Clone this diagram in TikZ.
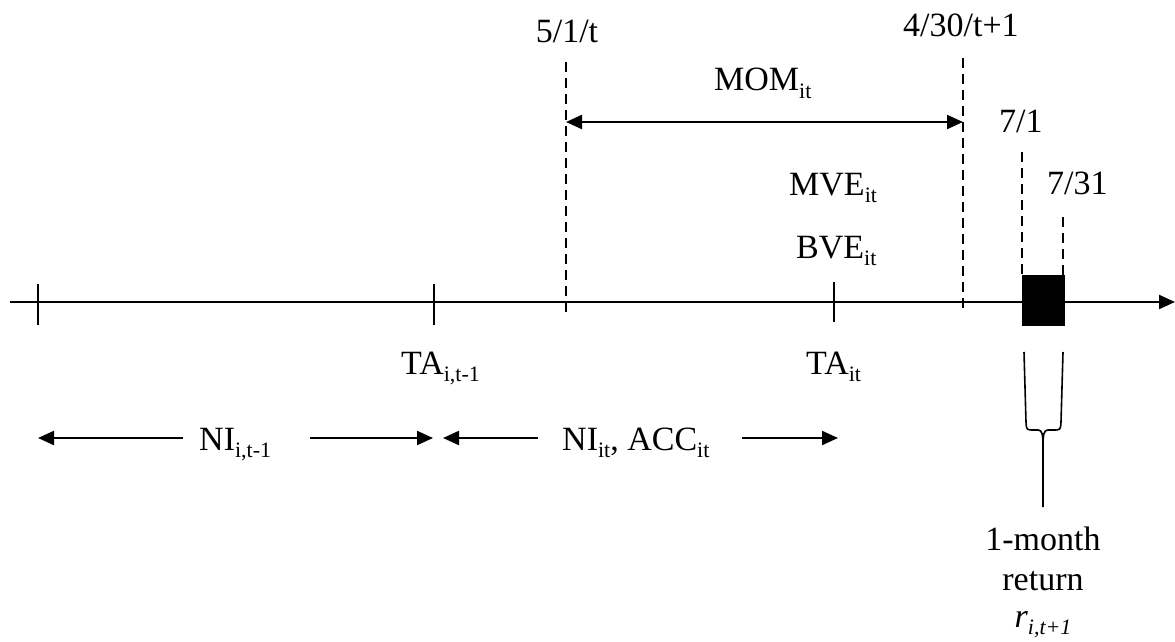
\documentclass[tikz,border=0pt]{standalone}
\usepackage{fontspec}
\setmainfont{Liberation Serif}
\usetikzlibrary{arrows.meta}
\newcommand\sbs[1]{\raisebox{-0.22em}{\fontsize{22}{22}\selectfont #1}}
\begin{document}
\begin{tikzpicture}[x=1pt,y=-1pt,
  lbl/.style={font=\fontsize{34}{38}\selectfont, inner sep=0pt, anchor=base west},
  lblc/.style={font=\fontsize{34}{38}\selectfont, inner sep=0pt, anchor=base},
  axisline/.style={line width=2.2pt, -{Triangle[length=16pt,width=14pt]}},
  tick/.style={line width=1.8pt},
  dline/.style={line width=1.6pt, dash pattern=on 10pt off 6pt},
  dbl/.style={line width=2.2pt, {Triangle[length=16pt,width=14pt]}-{Triangle[length=16pt,width=14pt]}},
  sgl/.style={line width=2.2pt, -{Triangle[length=16pt,width=14pt]}},
  brace/.style={line width=1.6pt}]
\useasboundingbox (0,0) rectangle (1175,642);
% axis
\coordinate (a0) at (10,302);
\coordinate (a1) at (1175,302);
\draw[axisline] (a0) -- (a1);
% solid ticks
\coordinate (t1a) at (38,284); \coordinate (t1b) at (38,325);
\coordinate (t2a) at (434,284); \coordinate (t2b) at (434,325);
\coordinate (t3a) at (834,282); \coordinate (t3b) at (834,322);
\draw[tick] (t1a) -- (t1b);
\draw[tick] (t2a) -- (t2b);
\draw[tick] (t3a) -- (t3b);
% dashed lines
\coordinate (d1a) at (566,62); \coordinate (d1b) at (566,313);
\coordinate (d2a) at (963,58); \coordinate (d2b) at (963,308);
\coordinate (d3a) at (1022,152); \coordinate (d3b) at (1022,275);
\coordinate (d4a) at (1063,217); \coordinate (d4b) at (1063,275);
\draw[dline] (d1a) -- (d1b);
\draw[dline] (d2a) -- (d2b);
\draw[dline] (d3a) -- (d3b);
\draw[dline] (d4a) -- (d4b);
% black box
\node[fill=black, draw=none, minimum width=43pt, minimum height=51pt, inner sep=0pt] (box) at (1043.5,300.5) {};
% MOM arrow
\coordinate (m1) at (566,122); \coordinate (m2) at (963,122);
\draw[dbl] (m1) -- (m2);
% labels
\node[lblc] (l51) at (567,43) {5/1/t};
\node[lbl] (l430) at (903,37) {4/30/t+1};
\node[lbl] (l71) at (999,132) {7/1};
\node[lbl] (mom) at (714,91) {MOM\sbs{it}};
\node[lbl] (mve) at (789,195) {MVE\sbs{it}};
\node[lbl] (bve) at (796,258) {BVE\sbs{it}};
\node[lbl] (l731) at (1047,194) {7/31};
\node[lbl] (ta1) at (401,374) {TA\sbs{i,t-1}};
\node[lbl] (ta2) at (806,374) {TA\sbs{it}};
\node[lbl] (ni1) at (199,450) {NI\sbs{i,t-1}};
\node[lbl] (ni2) at (562,450) {NI\sbs{it}, ACC\sbs{it}};
\node[lblc] (ret1) at (1043,550) {1-month};
\node[lblc] (ret2) at (1043,590) {return};
\node[lblc] (ret3) at (1043,627) {\textit{r}\sbs{\textit{i,t+1}}};
% NI arrows
\coordinate (n1a) at (183,438); \coordinate (n1b) at (38,438);
\coordinate (n2a) at (310,438); \coordinate (n2b) at (433,438);
\coordinate (n3a) at (538,438); \coordinate (n3b) at (443,438);
\coordinate (n4a) at (742,438); \coordinate (n4b) at (838,438);
\draw[sgl] (n1a) -- (n1b);
\draw[sgl] (n2a) -- (n2b);
\draw[sgl] (n3a) -- (n3b);
\draw[sgl] (n4a) -- (n4b);
% brace
\coordinate (bl) at (1024,352); \coordinate (br) at (1063,352); \coordinate (bt) at (1043,507);
\draw[brace] (bl) -- (1026,422) .. controls (1026.5,430) .. (1034,430) -- (1038,430)
  .. controls (1042,430) and (1043,434) .. (1043,446) -- (bt);
\draw[brace] (br) -- (1061,422) .. controls (1060.5,430) .. (1053,430) -- (1048,430)
  .. controls (1044,430) and (1043,434) .. (1043,446);
\end{tikzpicture}
\end{document}
